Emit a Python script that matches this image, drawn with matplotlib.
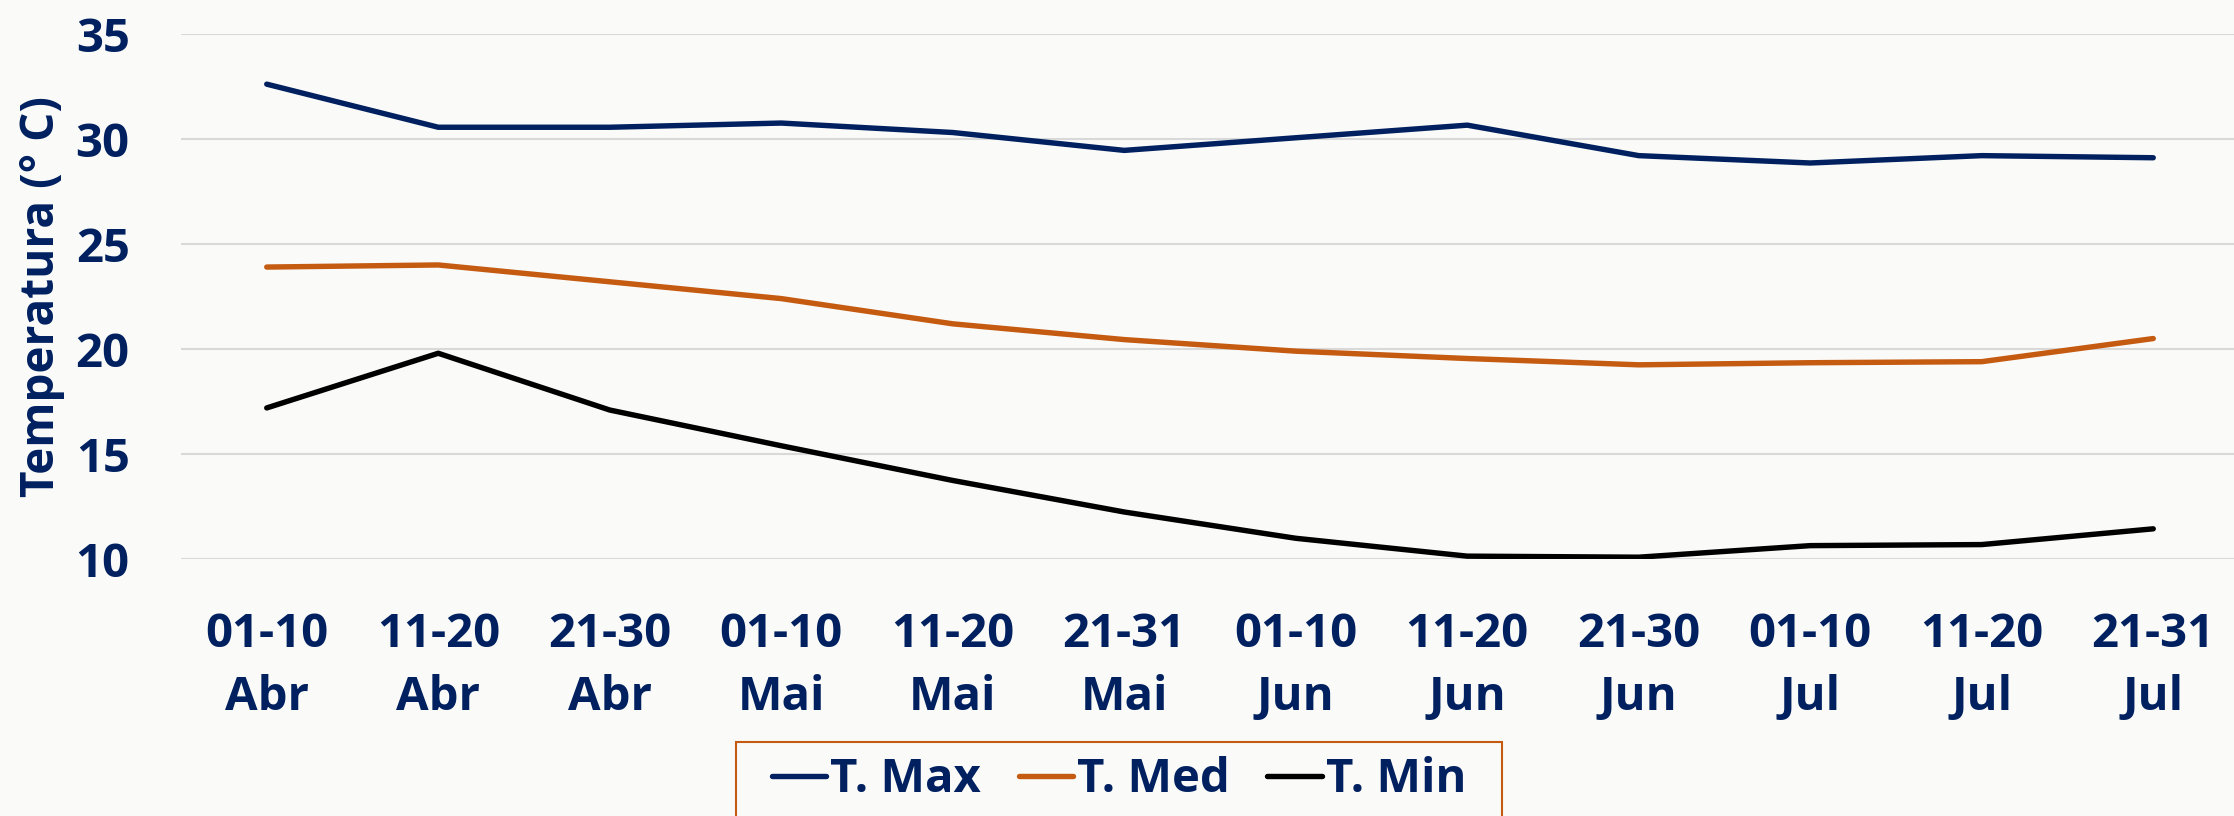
import matplotlib.pyplot as plt
import matplotlib.patches as patches
import numpy as np

# dekads (Apr - Jul)
periods = ['01-10\nAbr', '11-20\nAbr', '21-30\nAbr',
           '01-10\nMai', '11-20\nMai', '21-31\nMai',
           '01-10\nJun', '11-20\nJun', '21-30\nJun',
           '01-10\nJul', '11-20\nJul', '21-31\nJul']

t_max = [32.6, 30.55, 30.55, 30.75, 30.3, 29.45, 30.05, 30.65, 29.2, 28.85, 29.2, 29.1]
t_med = [23.9, 24.0, 23.2, 22.4, 21.2, 20.45, 19.9, 19.55, 19.25, 19.35, 19.4, 20.5]
t_min = [17.2, 19.8, 17.1, 15.4, 13.75, 12.25, 11.0, 10.15, 10.1, 10.65, 10.7, 11.45]

navy = '#002060'
orange = '#C55A11'
bg = '#FAFAF8'

plt.rcParams['font.family'] = ['Open Sans', 'DejaVu Sans']
plt.rcParams['font.weight'] = 'bold'

fig = plt.figure(figsize=(22.34, 8.16), dpi=100, facecolor=bg)
ax = fig.add_axes([181/2234, 1-559.3/816, 2058/2234, (559.3-33.7)/816])
ax.set_facecolor(bg)

x = np.arange(len(periods))
ax.plot(x, t_max, color=navy, lw=3.9, solid_capstyle='round', label='T. Max')
ax.plot(x, t_med, color=orange, lw=3.9, solid_capstyle='round', label='T. Med')
ax.plot(x, t_min, color='black', lw=3.9, solid_capstyle='round', label='T. Min')

ax.set_xlim(-0.5, len(periods)-0.5)
ax.set_ylim(10, 35)
ax.set_yticks([10, 15, 20, 25, 30, 35])
ax.set_xticks(x)
ax.set_xticklabels(periods, linespacing=1.45)
ax.grid(axis='y', color='#D9D9D9', lw=1.5)
ax.set_axisbelow(True)
for s in ax.spines.values():
    s.set_visible(False)
ax.tick_params(axis='both', length=0, labelsize=34, labelcolor=navy)
ax.tick_params(axis='y', pad=37)
ax.tick_params(axis='x', pad=37)
for lbl in ax.get_xticklabels() + ax.get_yticklabels():
    lbl.set_fontweight('bold')

ax.set_ylabel('Temperatura (° C)', fontsize=33, color=navy, fontweight='bold')
ax.yaxis.set_label_coords(-0.0565, 0.5)

# legend box (runs off the bottom edge, as in the original slide)
box = patches.Rectangle((736/2234, -0.1), (1502-736)/2234, 0.1 + (816-742)/816,
                        transform=fig.transFigure, facecolor=bg,
                        edgecolor=orange, lw=1.5, zorder=1)
fig.patches.append(box)

leg = fig.legend(loc='upper center', bbox_to_anchor=(1119/2234, 1-742/816),
                 ncol=3, frameon=False, fontsize=34, handlelength=1.15,
                 handletextpad=0.08, columnspacing=0.8, borderpad=0.3,
                 borderaxespad=0)
leg.set_zorder(2)
for t in leg.get_texts():
    t.set_color(navy)
    t.set_fontweight('bold')

fig.savefig('out.png', dpi=100, facecolor=bg)
